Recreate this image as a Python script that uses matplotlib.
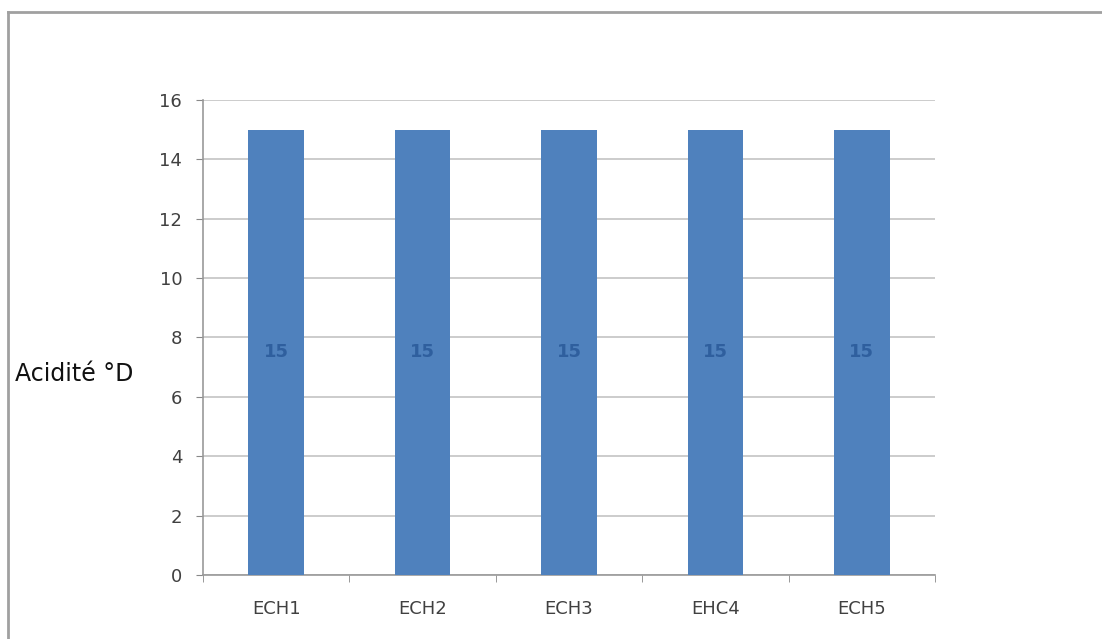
import numpy as np
from matplotlib import pyplot as plt
from matplotlib.lines import Line2D

# Data
echantillons = ['ECH1', 'ECH2', 'ECH3', 'EHC4', 'ECH5']
acidite = [15, 15, 15, 15, 15]
yticks = [0, 2, 4, 6, 8, 10, 12, 14, 16]

fig = plt.figure(figsize=(11.02, 6.39), dpi=100)
ax = fig.add_axes([0.1842, 0.1002, 0.6643, 0.7433])

x = np.arange(len(echantillons))
bars = ax.bar(x, acidite, width=0.38, color='#4F81BD', zorder=3)

# Data labels, dark blue in the middle of each bar
for xi, v in zip(x, acidite):
    ax.text(xi, v / 2, '%d' % v, ha='center', va='center', fontsize=13,
            fontweight='bold', color='#2F5F9E', zorder=4)

ax.set_xlim(-0.5, len(echantillons) - 0.5)
ax.set_ylim(0, 16)
ax.set_yticks(yticks)
ax.set_xticks(x)
ax.set_xticklabels(echantillons)
ax.set_xticks(np.arange(-0.5, len(echantillons)), minor=True)

ax.yaxis.grid(True, color='#c4c4c4', linewidth=1.2, zorder=0)
ax.tick_params(axis='y', labelsize=13, labelcolor='#404040', color='#888888',
               length=5, pad=10)
ax.tick_params(axis='x', which='major', length=0, labelsize=13,
               labelcolor='#404040', pad=18)
ax.tick_params(axis='x', which='minor', length=5, color='#888888')

for s in ['top', 'right']:
    ax.spines[s].set_visible(False)
for s in ['left', 'bottom']:
    ax.spines[s].set_color('#999999')
    ax.spines[s].set_linewidth(1.2)

fig.text(0.0136, 0.415, 'Acidité °D', fontsize=17, color='#111111',
         va='center', ha='left')

# Outer chart frame (top and left edges visible)
fig.add_artist(Line2D([0.0073, 1.0], [0.981, 0.981], color='#a0a0a0',
                      linewidth=2, transform=fig.transFigure))
fig.add_artist(Line2D([0.0073, 0.0073], [0.0, 0.981], color='#a0a0a0',
                      linewidth=2, transform=fig.transFigure))

plt.savefig('out.png', dpi=100)
